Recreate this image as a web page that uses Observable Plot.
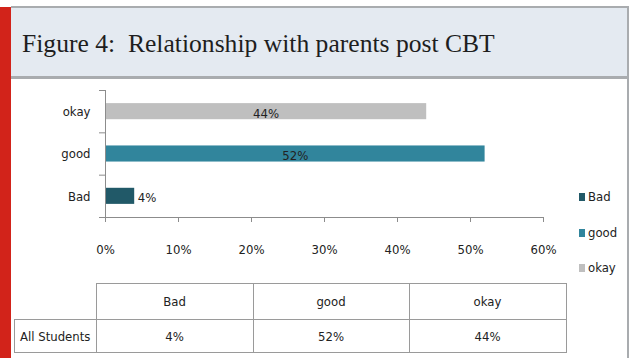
<!DOCTYPE html>
<html>
<head>
<meta charset="utf-8">
<script src="https://cdn.jsdelivr.net/npm/d3@7"></script>
<script src="https://cdn.jsdelivr.net/npm/@observablehq/plot@0.6"></script>
<style>
  html, body { margin: 0; padding: 0; background: #fff; }
  #page { position: relative; width: 629px; height: 358px; overflow: hidden; background: #fff;
          font-family: "Liberation Sans Narrow", "DejaVu Sans Condensed", "Liberation Sans", sans-serif; color: #222; }
  #redbar { position: absolute; left: 0; top: 7px; width: 11px; height: 351px; background: #d2231a; }
  #titlebox { position: absolute; left: 11px; top: 6px; width: 616px; height: 68px; background: #e4eaf1;
              border-top: 2px solid #a9acaf; border-bottom: 3px solid #a9acaf; }
  #rightborder { position: absolute; left: 627px; top: 6px; width: 2px; height: 352px; background: #a9acaf; }
  #title { position: absolute; left: 22px; top: 29px; font-family: "Liberation Serif", "DejaVu Serif", serif;
           font-size: 25.6px; color: #1e1e1e; white-space: pre; line-height: 30px; }
  #chart { position: absolute; left: 0; top: 77px; }
  #legend { position: absolute; left: 579px; top: 189px; font-size: 13px; }
  .lg { height: 35.5px; display: flex; align-items: flex-start; }
  .sw { width: 6px; height: 8px; margin-top: 4px; margin-right: 3px; }
  table { position: absolute; left: 14px; top: 283px; border-collapse: collapse; font-size: 13px; }
  td { border: 1px solid #9a9a9a; text-align: center; padding: 0; color: #222; }
  td.blank { border: none; }
</style>
</head>
<body>
<div id="page">
  <div id="redbar"></div>
  <div id="titlebox"></div>
  <div id="rightborder"></div>
  <div id="title"></div>
  <div id="chart"></div>
  <div id="legend"></div>
  <table id="tbl"></table>
</div>
<script>
// ---- data ----
const titleText = "Figure 4:  Relationship with parents post CBT";
const categories = ["Bad", "good", "okay"];
const values = [0.04, 0.52, 0.44];
const colors = ["#215968", "#31859c", "#bfbfbf"];
const chartOrder = ["okay", "good", "Bad"];           // top to bottom
const xTicks = [0, 0.1, 0.2, 0.3, 0.4, 0.5, 0.6];
const rowLabel = "All Students";

const pct = d3.format(".0%");
document.getElementById("title").textContent = titleText;

const data = categories.map((c, i) => ({
  category: c, value: values[i], pos: chartOrder.indexOf(c)
}));

const halfBar = 0.19;
const chart = Plot.plot({
  width: 629,
  height: 281,
  marginLeft: 105,
  marginRight: 86,
  marginTop: 13,
  marginBottom: 141,
  style: { fontFamily: "'Liberation Sans Narrow', 'DejaVu Sans Condensed', sans-serif", fontSize: "13px", color: "#222", background: "transparent" },
  x: { domain: [xTicks[0], xTicks[xTicks.length - 1]] },
  y: { domain: [0, chartOrder.length], reverse: true },
  color: { domain: categories, range: colors },
  marks: [
    Plot.rectX(data, {
      x1: 0, x2: "value",
      y1: d => d.pos + 0.5 - halfBar, y2: d => d.pos + 0.5 + halfBar,
      fill: "category"
    }),
    Plot.text(data.filter(d => d.value > 0.1), {
      x: d => d.value / 2, y: d => d.pos + 0.5, text: d => pct(d.value), fill: "#222", textAnchor: "middle", dy: 2
    }),
    Plot.text(data.filter(d => d.value <= 0.1), {
      x: "value", y: d => d.pos + 0.5, text: d => pct(d.value), fill: "#222", textAnchor: "start", dx: 3, dy: 1
    }),
    Plot.ruleX([xTicks[0]], { stroke: "#8c8c8c" }),
    Plot.ruleY([chartOrder.length], { stroke: "#8c8c8c" }),
    Plot.axisY({ ticks: d3.range(chartOrder.length + 1), tickSize: 6, tickFormat: () => "", stroke: "#8c8c8c", label: null }),
    Plot.axisY({ ticks: chartOrder.map((c, i) => i + 0.5), tickSize: 0, tickPadding: 15,
                 tickFormat: v => chartOrder[Math.floor(v)], label: null, fill: "#222" }),
    Plot.axisX({ ticks: xTicks, tickSize: 5, tickPadding: 22, tickFormat: pct, stroke: "#8c8c8c", fill: "#222", label: null })
  ]
});
document.getElementById("chart").appendChild(chart);

// legend
const lg = document.getElementById("legend");
categories.forEach((c, i) => {
  const row = document.createElement("div");
  row.className = "lg";
  const sw = document.createElement("div");
  sw.className = "sw";
  sw.style.background = colors[i];
  const t = document.createElement("span");
  t.textContent = c;
  row.appendChild(sw); row.appendChild(t);
  lg.appendChild(row);
});

// table
const tbl = document.getElementById("tbl");
const widths = [81, 156, 155, 156];
const hdr = tbl.insertRow();
hdr.style.height = "36px";
const blank = hdr.insertCell(); blank.className = "blank"; blank.style.width = widths[0] + "px";
categories.forEach((c, i) => { const td = hdr.insertCell(); td.textContent = c; td.style.width = widths[i + 1] + "px"; });
const row = tbl.insertRow();
row.style.height = "33px";
const lab = row.insertCell(); lab.textContent = rowLabel;
values.forEach(v => { const td = row.insertCell(); td.textContent = pct(v); });
</script>
</body>
</html>
